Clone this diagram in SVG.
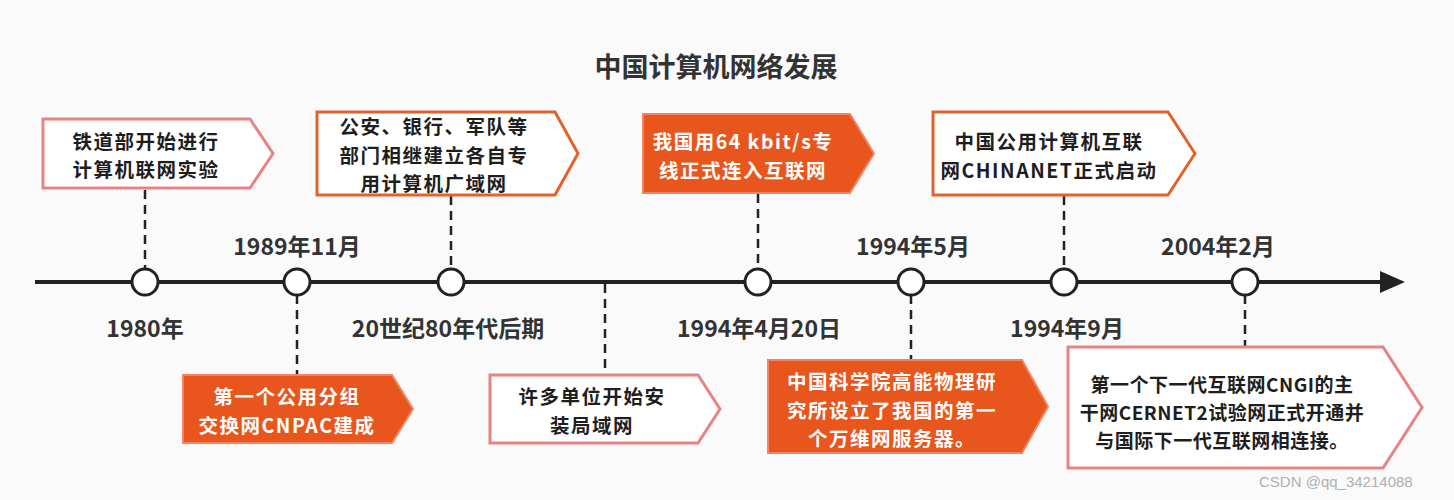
<svg xmlns="http://www.w3.org/2000/svg" width="1454" height="500" viewBox="0 0 1454 500">
<style>
.bg{fill:#fafafa}
.title{font-family:"Noto Sans CJK SC","Liberation Sans",sans-serif;font-weight:bold;font-size:27px;fill:#333;text-anchor:middle;dominant-baseline:central}
.date{font-family:"Noto Sans CJK SC","Liberation Sans",sans-serif;font-weight:bold;font-size:23px;fill:#333;text-anchor:middle;dominant-baseline:central}
.t{font-family:"Noto Sans CJK SC","Liberation Sans",sans-serif;font-weight:bold;font-size:19.5px;letter-spacing:1.5px;text-anchor:middle;dominant-baseline:central}
.dark{fill:#1e1e1e}
.light{fill:#ffffff}
.pink{fill:#ffffff;stroke:#e98383;stroke-width:3}
.orange{fill:#ffffff;stroke:#e2622c;stroke-width:3}
.solid{fill:#e8561d;stroke:#f08463;stroke-width:2}
.dash{stroke:#222;stroke-width:2.5;stroke-dasharray:9 6;fill:none}
.axis{stroke:#222;stroke-width:4;fill:none}
.dot{fill:#fff;stroke:#222;stroke-width:3}
.wm{font-family:"Liberation Sans",Arial,sans-serif;font-size:15px;fill:#b0b0b0}
</style>
<rect class="bg" x="0" y="0" width="1454" height="500"/>
<text class="title" x="716" y="65">中国计算机网络发展</text>

<g id="connectors">
<line class="axis" x1="35" y1="282" x2="1385" y2="282"/>
<polygon points="1380,271 1405,282 1380,293" fill="#222"/>
<line class="dash" x1="145" y1="190" x2="145" y2="269"/>
<line class="dash" x1="297" y1="295" x2="297" y2="375"/>
<line class="dash" x1="451" y1="196" x2="451" y2="269"/>
<line class="dash" x1="605" y1="284" x2="605" y2="375"/>
<line class="dash" x1="758" y1="194" x2="758" y2="269"/>
<line class="dash" x1="911" y1="295" x2="911" y2="360"/>
<line class="dash" x1="1064" y1="196" x2="1064" y2="269"/>
<line class="dash" x1="1245" y1="295" x2="1245" y2="347"/>
</g>

<g id="t1980"><circle class="dot" cx="145" cy="282" r="13"/><text class="date" x="145" y="327">1980年</text></g>
<g id="t1989"><circle class="dot" cx="297" cy="282" r="13"/><text class="date" x="297" y="245">1989年11月</text></g>
<g id="t80s"><circle class="dot" cx="451" cy="282" r="13"/><text class="date" x="448" y="327">20世纪80年代后期</text></g>
<g id="t1994a"><circle class="dot" cx="758" cy="282" r="13"/><text class="date" x="759" y="327">1994年4月20日</text></g>
<g id="t1994b"><circle class="dot" cx="911" cy="282" r="13"/><text class="date" x="913" y="245">1994年5月</text></g>
<g id="t1994c"><circle class="dot" cx="1064" cy="282" r="13"/><text class="date" x="1067" y="327">1994年9月</text></g>
<g id="t2004"><circle class="dot" cx="1245" cy="282" r="13"/><text class="date" x="1218" y="245">2004年2月</text></g>

<g id="box1">
<polygon class="pink" points="43,119 250,119 273,153.5 250,188 43,188"/>
<text class="t dark"><tspan x="146" y="139.5">铁道部开始进行</tspan><tspan x="146" y="168">计算机联网实验</tspan></text>
</g>
<g id="box2">
<polygon class="orange" points="317,112 555,112 578,153.5 555,195 317,195"/>
<text class="t dark"><tspan x="434" y="125">公安、银行、军队等</tspan><tspan x="434" y="153.5">部门相继建立各自专</tspan><tspan x="434" y="182">用计算机广域网</tspan></text>
</g>
<g id="box3">
<polygon class="solid" points="643,114 850,114 874,153.5 850,193 643,193"/>
<text class="t light"><tspan x="743" y="140">我国用64 kbit/s专</tspan><tspan x="743" y="168.5">线正式连入互联网</tspan></text>
</g>
<g id="box4">
<polygon class="orange" points="933,112 1168,112 1195,153.5 1168,195 933,195"/>
<text class="t dark"><tspan x="1049" y="140">中国公用计算机互联</tspan><tspan x="1049" y="168.5">网CHINANET正式启动</tspan></text>
</g>
<g id="box5">
<polygon class="solid" points="183,375 392,375 413,409 392,443 183,443"/>
<text class="t light"><tspan x="287" y="395">第一个公用分组</tspan><tspan x="287" y="423.5">交换网CNPAC建成</tspan></text>
</g>
<g id="box6">
<polygon class="pink" points="490,375 698,375 720,409 698,443 490,443"/>
<text class="t dark"><tspan x="592" y="395">许多单位开始安</tspan><tspan x="592" y="423.5">装局域网</tspan></text>
</g>
<g id="box7">
<polygon class="solid" points="768,360 1022,360 1048,406.5 1022,453 768,453"/>
<text class="t light"><tspan x="892" y="380">中国科学院高能物理研</tspan><tspan x="892" y="408.5">究所设立了我国的第一</tspan><tspan x="892" y="437">个万维网服务器。</tspan></text>
</g>
<g id="box8">
<polygon class="pink" points="1068,347 1383,347 1422,407.5 1383,468 1068,468"/>
<text class="t dark" style="font-size:19px;letter-spacing:0.5px"><tspan x="1222" y="383">第一个下一代互联网CNGI的主</tspan><tspan x="1222" y="411">干网CERNET2试验网正式开通并</tspan><tspan x="1222" y="439">与国际下一代互联网相连接。</tspan></text>
</g>

<text class="wm" x="1259" y="487">CSDN @qq_34214088</text>
</svg>
